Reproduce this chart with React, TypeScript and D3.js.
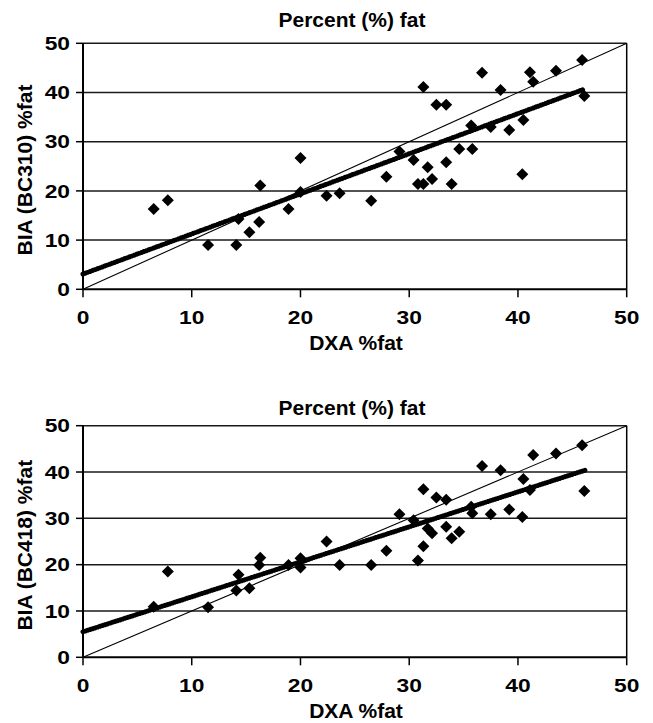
import * as d3 from 'd3'
import React from 'react'

// DXA %fat, shared by both panels (same subjects)
const dxaFat = [
  6.5, 7.8, 11.5, 14.1, 14.3, 15.3, 16.2, 16.3, 18.9, 20.0, 20.0, 22.4, 23.6, 26.5, 27.9, 29.1,
  30.4, 30.8, 31.3, 31.3, 31.7, 32.1, 32.5, 33.4, 33.4, 33.9, 34.6, 35.7, 35.8, 36.7, 37.5, 38.4,
  39.2, 40.4, 40.5, 41.1, 41.4, 43.5, 45.9, 46.1
]

// BIA BC310 %fat
const bc310Fat = [
  16.3, 18.1, 9.0, 9.0, 14.3, 11.6, 13.7, 21.1, 16.3, 26.7, 19.8, 19.0, 19.5, 18.0, 22.9, 28.0,
  26.3, 21.4, 21.4, 41.1, 24.8, 22.4, 37.5, 37.5, 25.8, 21.4, 28.5, 33.3, 28.5, 44.0, 33.0, 40.5,
  32.4, 23.4, 34.4, 44.1, 42.2, 44.4, 46.6, 39.3
]

// BIA BC418 %fat
const bc418Fat = [
  10.9, 18.5, 10.8, 14.4, 17.8, 14.9, 19.9, 21.5, 19.9, 21.4, 19.4, 25.0, 19.9, 19.9, 23.0, 30.9,
  29.6, 20.9, 24.0, 36.3, 27.8, 26.8, 34.5, 34.0, 28.2, 25.7, 27.1, 32.5, 31.1, 41.3, 30.9, 40.4,
  31.9, 30.3, 38.5, 36.1, 43.7, 44.0, 45.8, 35.9
]

// regression line end points [dxa, bia]
const bc310Trend: [number, number][] = [[0, 3.1], [46, 40.6]]
const bc418Trend: [number, number][] = [[0, 5.5], [46.2, 40.4]]

const identityLine: [number, number][] = [[0, 0], [50, 50]]

const axisTicks = [0, 10, 20, 30, 40, 50]
const chartTitle = 'Percent (%) fat'
const xTitle = 'DXA %fat'

const panels = [
  { yTitle: 'BIA (BC310) %fat', values: bc310Fat, trend: bc310Trend, top: 43.3, bottom: 289.3, titleGap: 16.8 },
  { yTitle: 'BIA (BC418) %fat', values: bc418Fat, trend: bc418Trend, top: 425.7, bottom: 657.3, titleGap: 10.7 }
]

const FONT = '"Liberation Sans", Arial, Helvetica, sans-serif'
const plotLeft = 83
const plotRight = 626.7

const Panel = ({ p }: { p: typeof panels[number] }) => {
  const x = d3.scaleLinear().domain([0, 50]).range([plotLeft, plotRight])
  const y = d3.scaleLinear().domain([0, 50]).range([p.bottom, p.top])
  const line = d3.line<[number, number]>().x((d) => x(d[0])).y((d) => y(d[1]))
  const diamond = d3.symbol().type(d3.symbolSquare).size(72)()
  const midY = (p.top + p.bottom) / 2

  return (
    <g>
      {/* horizontal grid */}
      {axisTicks.slice(1).map((t) => (
        <line key={'g' + t} x1={x(0)} x2={x(50)} y1={y(t)} y2={y(t)} stroke='#1a1a1a' strokeWidth={1.5} />
      ))}
      {/* frame right */}
      <line x1={x(50)} x2={x(50)} y1={y(0)} y2={y(50)} stroke='#000' strokeWidth={1.5} />

      {/* identity line */}
      <path d={line(identityLine) || ''} fill='none' stroke='#000' strokeWidth={1.1} />

      {/* regression line */}
      <path
        d={line(p.trend) || ''}
        fill='none'
        stroke='#000'
        strokeWidth={5}
        strokeLinecap='round'
        strokeDasharray='0.01 2.6'
      />

      {/* points */}
      {dxaFat.map((dx, i) => (
        <path key={'p' + i} d={diamond || ''} transform={`translate(${x(dx)},${y(p.values[i])}) rotate(45)`} fill='#000' />
      ))}

      {/* axes */}
      <line x1={x(0)} x2={x(0)} y1={y(0)} y2={y(50)} stroke='#000' strokeWidth={2} />
      <line x1={x(0)} x2={x(50)} y1={y(0)} y2={y(0)} stroke='#000' strokeWidth={2} />
      {axisTicks.map((t) => (
        <g key={'yt' + t}>
          <line x1={x(0) - 7} x2={x(0)} y1={y(t)} y2={y(t)} stroke='#000' strokeWidth={1.5} />
          <text
            transform={`translate(${x(0) - 13},${y(t) + 6.7}) scale(1.2,1)`}
            textAnchor='end'
            fontFamily={FONT}
            fontWeight='bold'
            fontSize={19}
          >
            {t}
          </text>
        </g>
      ))}
      {axisTicks.map((t) => (
        <g key={'xt' + t}>
          <line x1={x(t)} x2={x(t)} y1={y(0)} y2={y(0) + 8} stroke='#000' strokeWidth={1.5} />
          <text
            transform={`translate(${x(t)},${y(0) + 34.7}) scale(1.2,1)`}
            textAnchor='middle'
            fontFamily={FONT}
            fontWeight='bold'
            fontSize={19}
          >
            {t}
          </text>
        </g>
      ))}

      {/* titles */}
      <text
        transform={`translate(352,${p.top - p.titleGap}) scale(1.05,1)`}
        textAnchor='middle'
        fontFamily={FONT}
        fontWeight='bold'
        fontSize={20}
      >
        {chartTitle}
      </text>
      <text
        x={356}
        y={p.bottom + 60.5}
        textAnchor='middle'
        fontFamily={FONT}
        fontWeight='bold'
        fontSize={21}
      >
        {xTitle}
      </text>
      <text
        transform={`translate(31.7,${midY + 3.7}) rotate(-90)`}
        textAnchor='middle'
        fontFamily={FONT}
        fontWeight='bold'
        fontSize={21}
      >
        {p.yTitle}
      </text>
    </g>
  )
}

export default function App() {
  return (
    <>
      <style>{'body{margin:0}'}</style>
      <svg width={653} height={723} style={{ display: 'block', background: '#fff' }}>
        {panels.map((p, i) => (
          <Panel key={i} p={p} />
        ))}
      </svg>
    </>
  )
}
